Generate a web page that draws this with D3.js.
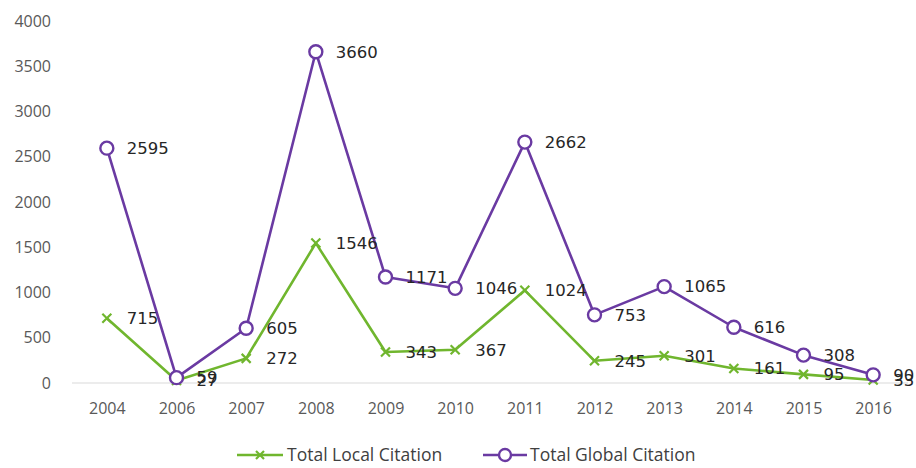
<!DOCTYPE html>
<html>
<head>
<meta charset="utf-8">
<script src="https://cdn.jsdelivr.net/npm/d3@7"></script>
<style>
  html, body { margin: 0; padding: 0; background: #fff; }
  svg { display: block; }
</style>
</head>
<body>
<svg id="chart" width="916" height="468"></svg>
<script>
// Citation counts per publication year
const years = ["2004", "2006", "2007", "2008", "2009", "2010", "2011", "2012", "2013", "2014", "2015", "2016"];
const localCitation = [715, 27, 272, 1546, 343, 367, 1024, 245, 301, 161, 95, 33];
const globalCitation = [2595, 59, 605, 3660, 1171, 1046, 2662, 753, 1065, 616, 308, 90];
const yTicks = [0, 500, 1000, 1500, 2000, 2500, 3000, 3500, 4000];
const seriesNames = ["Total Local Citation", "Total Global Citation"];

const green = "#70b62e";
const purple = "#6a3aa2";

const svg = d3.select("#chart");
const plotLeft = 72, plotRight = 908, plotTop = 21, plotBottom = 383;

const x = d3.scalePoint().domain(years).range([plotLeft, plotRight]).padding(0.5);
const y = d3.scaleLinear().domain([0, 4000]).range([plotBottom, plotTop]);

const axisFont = "'Open Sans', 'Liberation Sans', sans-serif";
const labelFont = "'DejaVu Sans', Verdana, sans-serif";

// baseline
svg.append("line")
  .attr("x1", plotLeft).attr("x2", plotRight)
  .attr("y1", y(0)).attr("y2", y(0))
  .attr("stroke", "#d9d9d9").attr("stroke-width", 1.2);

// y axis labels
const yAxis = svg.append("g")
  .attr("transform", `translate(${plotLeft - 21},0)`)
  .call(d3.axisLeft(y).tickValues(yTicks).tickFormat(d3.format("d")).tickSize(0).tickPadding(0));
yAxis.select(".domain").remove();
yAxis.selectAll("text")
  .attr("font-family", axisFont).attr("font-size", 16).attr("fill", "#595959");

// x axis labels
const xAxis = svg.append("g")
  .attr("transform", `translate(0,${plotBottom + 20})`)
  .call(d3.axisBottom(x).tickSize(0).tickPadding(0));
xAxis.select(".domain").remove();
xAxis.selectAll("text")
  .attr("font-family", axisFont).attr("font-size", 16).attr("fill", "#595959");

const line = d3.line().x((d, i) => x(years[i])).y(d => y(d));

function crossPath(cx, cy, s) {
  return `M${cx - s},${cy - s}L${cx + s},${cy + s}M${cx - s},${cy + s}L${cx + s},${cy - s}`;
}

// local citation series
svg.append("path").datum(localCitation)
  .attr("d", line).attr("fill", "none")
  .attr("stroke", green).attr("stroke-width", 2.6).attr("stroke-linejoin", "round");

// global citation series
svg.append("path").datum(globalCitation)
  .attr("d", line).attr("fill", "none")
  .attr("stroke", purple).attr("stroke-width", 2.6).attr("stroke-linejoin", "round");

svg.append("g").selectAll("path").data(localCitation).join("path")
  .attr("d", (d, i) => crossPath(x(years[i]), y(d), 4.5))
  .attr("stroke", green).attr("stroke-width", 2.2).attr("fill", "none");

svg.append("g").selectAll("circle").data(globalCitation).join("circle")
  .attr("cx", (d, i) => x(years[i])).attr("cy", d => y(d)).attr("r", 6.5)
  .attr("fill", "#fff").attr("stroke", purple).attr("stroke-width", 2.4);

// value labels
function addLabels(values) {
  svg.append("g").selectAll("text").data(values).join("text")
    .attr("x", (d, i) => x(years[i]) + 20)
    .attr("y", d => y(d))
    .attr("dy", "0.35em")
    .attr("font-family", labelFont).attr("font-size", 16.5).attr("fill", "#262626")
    .text(d => d);
}
addLabels(localCitation);
addLabels(globalCitation);

// legend
const legend = svg.append("g").attr("transform", "translate(0,455)");
legend.append("line").attr("x1", 237).attr("x2", 283).attr("y1", 0).attr("y2", 0)
  .attr("stroke", green).attr("stroke-width", 2.6);
legend.append("path").attr("d", crossPath(260, 0, 4))
  .attr("stroke", green).attr("stroke-width", 2.2);
legend.append("text").attr("x", 287).attr("y", 0).attr("dy", "0.35em")
  .attr("font-family", axisFont).attr("font-size", 17.5).attr("fill", "#404040")
  .text(seriesNames[0]);

legend.append("line").attr("x1", 483).attr("x2", 527).attr("y1", 0).attr("y2", 0)
  .attr("stroke", purple).attr("stroke-width", 2.6);
legend.append("circle").attr("cx", 505).attr("cy", 0).attr("r", 6)
  .attr("fill", "#fff").attr("stroke", purple).attr("stroke-width", 2.4);
legend.append("text").attr("x", 530).attr("y", 0).attr("dy", "0.35em")
  .attr("font-family", axisFont).attr("font-size", 17.5).attr("fill", "#404040")
  .text(seriesNames[1]);
</script>
</body>
</html>
